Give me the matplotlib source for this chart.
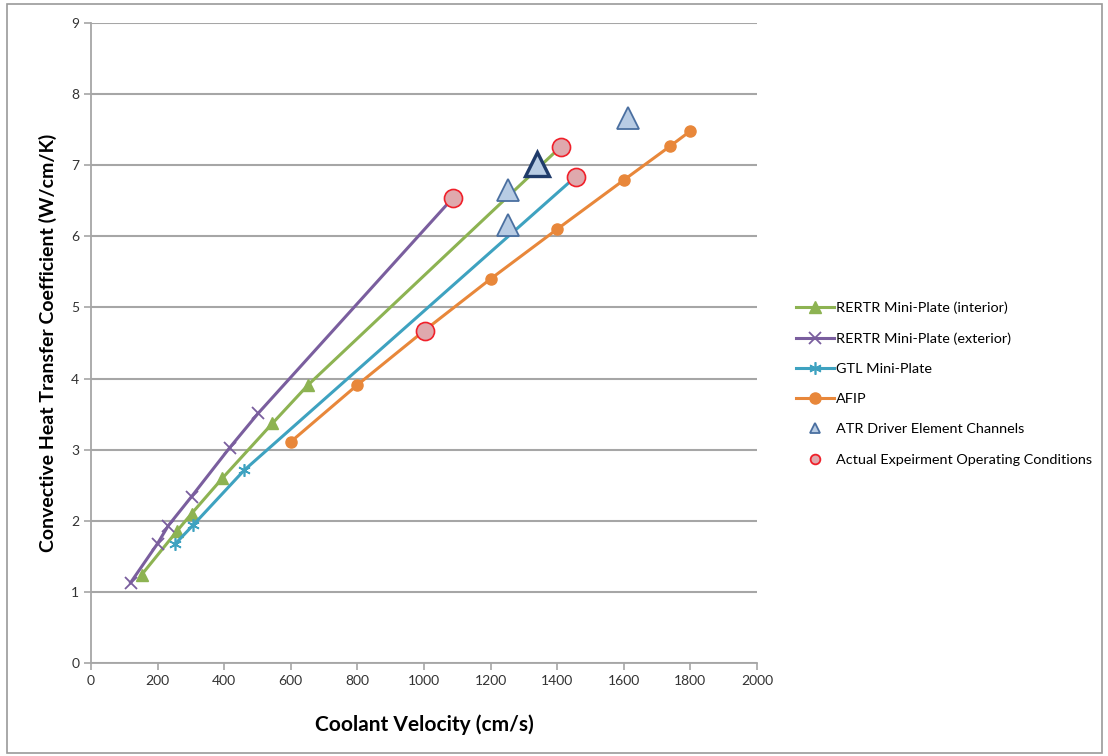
import matplotlib.pyplot as plt
from matplotlib.patches import Rectangle

plt.rcParams['font.family'] = ['Lato', 'DejaVu Sans']

# coolant velocity (cm/s) vs. convective heat transfer coefficient (W/cm/K)
interior_v = [152, 259, 302, 395, 545, 652, 1411]
interior_h = [1.24, 1.86, 2.10, 2.60, 3.37, 3.91, 7.26]

exterior_v = [119, 200, 232, 302, 417, 502, 1087]
exterior_h = [1.13, 1.68, 1.93, 2.34, 3.03, 3.51, 6.54]

gtl_v = [252, 307, 460, 1456]
gtl_h = [1.67, 1.94, 2.71, 6.84]

afip_v = [600, 800, 1000, 1200, 1400, 1600, 1740, 1800]
afip_h = [3.11, 3.91, 4.67, 5.40, 6.10, 6.79, 7.27, 7.48]

atr_v = [1252, 1252, 1613]
atr_h = [6.65, 6.16, 7.67]
atr_main_v = [1339]
atr_main_h = [7.02]

actual_v = [1087, 1411, 1456, 1003]
actual_h = [6.54, 7.26, 6.84, 4.67]

labels = ['RERTR Mini-Plate (interior)', 'RERTR Mini-Plate (exterior)',
          'GTL Mini-Plate', 'AFIP', 'ATR Driver Element Channels',
          'Actual Expeirment Operating Conditions']

fig = plt.figure(figsize=(11.08, 7.56), dpi=100)
fig.patches.append(Rectangle((0.006, 0.004), 0.989, 0.991, transform=fig.transFigure,
                             fill=False, edgecolor='#9a9a9a', linewidth=1.2))
ax = fig.add_axes([0.0821, 0.123, 0.601, 0.8466])

green = '#8db352'
purple = '#7a5e9e'
cyan = '#3ea2c0'
orange = '#e8873a'

l1, = ax.plot(interior_v, interior_h, color=green, lw=2.2, marker='^', ms=8, zorder=3)
l2, = ax.plot(exterior_v, exterior_h, color=purple, lw=2.2, marker='x', ms=8, mew=1.3, zorder=3)
l3, = ax.plot(gtl_v, gtl_h, color=cyan, lw=2.2, marker=(6, 2, 0), ms=9, mew=1.2, zorder=3)
l4, = ax.plot(afip_v, afip_h, color=orange, lw=2.2, marker='o', ms=8, zorder=3)

l5, = ax.plot(atr_v, atr_h, ls='none', marker='^', ms=16, mfc='#b8cce4', mec='#4a6fa0', mew=1.3, zorder=4)
ax.plot(atr_main_v, atr_main_h, ls='none', marker='^', ms=17, mfc='#b8cce4', mec='#1f3b6a', mew=2.4, zorder=4)
l6, = ax.plot(actual_v, actual_h, ls='none', marker='o', ms=13, mfc='#dfa9ad', mec='#f0202a', mew=1.2, zorder=5)

ax.set_xlim(0, 2000)
ax.set_ylim(0, 9)
ax.set_xticks(range(0, 2001, 200))
ax.set_yticks(range(0, 10))
ax.yaxis.grid(True, color='#a6a6a6', lw=1.5)
ax.set_axisbelow(True)
for s in ['top', 'right']:
    ax.spines[s].set_visible(False)
for s in ['left', 'bottom']:
    ax.spines[s].set_color('#a6a6a6')
    ax.spines[s].set_linewidth(1.3)
ax.tick_params(colors='#a6a6a6', labelcolor='#333333', labelsize=10, length=5, width=1.2)

ax.set_xlabel('Coolant Velocity (cm/s)', fontsize=15, fontweight='bold', labelpad=20)
ax.set_ylabel('Convective Heat Transfer Coefficient (W/cm/K)', fontsize=14,
              fontweight='bold', labelpad=10)

h5, = ax.plot([], [], ls='none', marker='^', ms=7, mfc='#b8cce4', mec='#4a6fa0', mew=1.3)
h6, = ax.plot([], [], ls='none', marker='o', ms=7, mfc='#dfa9ad', mec='#f0202a', mew=1.3)
fig.legend([l1, l2, l3, l4, h5, h6], labels, loc='upper left',
           bbox_to_anchor=(0.707, 0.618), frameon=False, fontsize=10.4,
           handlelength=2.6, labelspacing=1.25, handletextpad=0.15)

plt.savefig('out.png', dpi=100)
